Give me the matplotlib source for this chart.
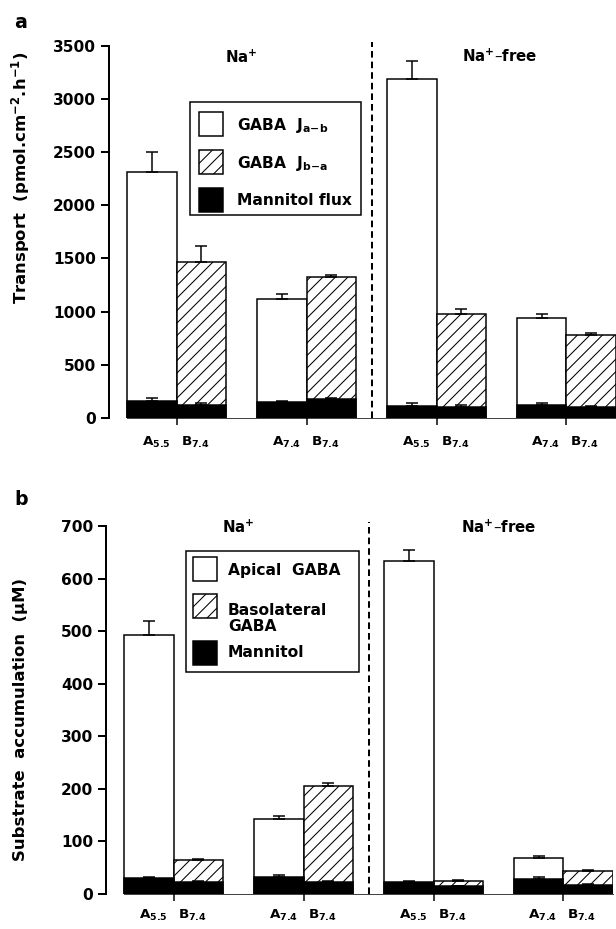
import matplotlib
matplotlib.use("Agg")
import matplotlib.pyplot as plt
from matplotlib.patches import Rectangle
import numpy as np

# ---------------------------------------------------------------- data
bar_labels = [r"A$_{5.5}$", r"B$_{7.4}$", r"A$_{7.4}$", r"B$_{7.4}$",
              r"A$_{5.5}$", r"B$_{7.4}$", r"A$_{7.4}$", r"B$_{7.4}$"]
condition_labels = [r"Na$^{+}$", r"Na$^{+}$–free"]

# panel a: transepithelial transport (pmol cm-2 h-1)
gaba_jab = [2315, 1115, 3185, 935]          # apical -> basal, A bars
gaba_jab_err = [190, 50, 175, 38]
gaba_jba = [1465, 1328, 975, 782]           # basal -> apical, B bars
gaba_jba_err = [150, 18, 45, 12]
mannitol_flux = [160, 120, 150, 175, 110, 105, 115, 105]
mannitol_flux_err = [30, 15, 8, 12, 28, 10, 25, 5]

# panel b: substrate accumulation (uM)
apical_gaba = [492, 143, 633, 68]
apical_gaba_err = [27, 6, 22, 5]
basolateral_gaba = [64, 206, 25, 44]
basolateral_gaba_err = [3, 5, 2, 1.5]
mannitol_acc = [29.5, 23, 32.5, 23, 22, 14.5, 28, 18]
mannitol_acc_err = [3, 1, 4.5, 1, 2.5, 0.5, 3.5, 0.5]

# ---------------------------------------------------------------- layout
W, H, DPI = 616, 929, 150


def pt(px):
    return px * 72.0 / DPI


def fx(x):
    return x / W


def fy(y):
    return 1 - y / H


plt.rcParams.update({
    "font.family": ["DejaVu Sans"],
    "font.weight": "bold",
    "mathtext.fontset": "dejavusans",
    "mathtext.default": "bf",
    "hatch.linewidth": 0.5,
    "hatch.color": "black",
})

fig = plt.figure(figsize=(W / DPI, H / DPI), dpi=DPI)
fig.patch.set_facecolor("white")

GROUP_STEP = 2.62
centers = np.arange(4) * GROUP_STEP
xa = centers - 0.5
xb = centers + 0.5
xm = np.column_stack([xa, xb]).ravel()
XLIM = (-1.365, 8.86)
HATCH = "////"

LW_BAR = pt(1.5)
err_kw = dict(elinewidth=pt(1.5), capthick=pt(1.5), ecolor="black")


def draw_panel(ax, a_vals, a_err, b_vals, b_err, m_vals, m_err, ymax, ystep,
               label_drop):
    zeros4 = np.zeros(4)
    ax.bar(xa, a_vals, width=1, color="white", edgecolor="black",
           linewidth=LW_BAR, yerr=[zeros4, a_err], capsize=pt(6),
           error_kw=err_kw, zorder=2)
    ax.bar(xb, b_vals, width=1, color="white", edgecolor="black",
           linewidth=LW_BAR, hatch=HATCH, yerr=[zeros4, b_err],
           capsize=pt(6), error_kw=err_kw, zorder=2)
    ax.bar(xm, m_vals, width=1, color="black", edgecolor="black",
           linewidth=LW_BAR, yerr=[np.zeros(8), m_err], capsize=pt(6),
           error_kw=err_kw, zorder=3)
    # thin baseline across the gaps between bar pairs
    ax.plot([xa[0] - 0.5, xb[-1] + 0.5], [0, 0], color="#444444",
            lw=pt(1), zorder=1, clip_on=False)
    # divider between Na+ and Na+-free conditions
    mid = (centers[1] + centers[2]) / 2
    ax.axvline(mid, ymin=0, ymax=1.012, color="black", lw=pt(2),
               linestyle=(0, (3.3, 2.0)), clip_on=False, zorder=1)

    ax.set_xlim(*XLIM)
    ax.set_ylim(0, ymax)
    ax.set_yticks(np.arange(0, ymax + 1, ystep))
    ax.set_xticks(centers)
    ax.set_xticklabels([])
    for s in ("top", "right", "bottom"):
        ax.spines[s].set_visible(False)
    ax.spines["left"].set_linewidth(pt(2))
    ax.tick_params(axis="y", direction="out", length=pt(8), width=pt(2),
                   labelsize=pt(15.4), pad=pt(5))
    ax.tick_params(axis="x", direction="out", length=pt(7), width=pt(1.5))
    for lab in ax.get_yticklabels():
        lab.set_fontweight("bold")

    for i, c in enumerate(centers):
        ax.annotate(bar_labels[2 * i], xy=(c, 0),
                    xycoords=("data", "axes fraction"),
                    xytext=(-pt(6), -pt(label_drop)),
                    textcoords="offset points",
                    ha="right", va="top", fontsize=pt(13.5),
                    fontweight="bold")
        ax.annotate(bar_labels[2 * i + 1], xy=(c, 0),
                    xycoords=("data", "axes fraction"),
                    xytext=(pt(4), -pt(label_drop)),
                    textcoords="offset points",
                    ha="left", va="top", fontsize=pt(13.5),
                    fontweight="bold")


def add_axes_px(left, top, right, bottom):
    return fig.add_axes([fx(left), fy(bottom), (right - left) / W,
                         (bottom - top) / H])


def legend_box(x0, y0, x1, y1, sq_x, entries):
    fig.add_artist(Rectangle((fx(x0), fy(y1)), (x1 - x0) / W,
                             (y1 - y0) / H, transform=fig.transFigure,
                             fill=False, edgecolor="black", lw=pt(1.5)))
    for yc, style, lines, tx in entries:
        face = "black" if style == "solid" else "white"
        hatch = HATCH if style == "hatch" else None
        fig.add_artist(Rectangle((fx(sq_x), fy(yc + 12)), 24 / W, 24 / H,
                                 transform=fig.transFigure, facecolor=face,
                                 edgecolor="black", lw=pt(1.5), hatch=hatch))
        for text, base in lines:
            fig.text(fx(tx), fy(base), text, ha="left", va="baseline",
                     fontsize=pt(15.5), fontweight="bold")


# ---------------------------------------------------------------- panel a
ax_a = add_axes_px(109, 46, 616, 417.7)
draw_panel(ax_a, gaba_jab, gaba_jab_err, gaba_jba, gaba_jba_err,
           mannitol_flux, mannitol_flux_err, 3500, 500, 17)

# ---------------------------------------------------------------- panel b
ax_b = add_axes_px(106, 526, 613, 894)
draw_panel(ax_b, apical_gaba, apical_gaba_err, basolateral_gaba,
           basolateral_gaba_err, mannitol_acc, mannitol_acc_err, 700, 100,
           14)

# ---------------------------------------------------------------- texts
fig.text(fx(21), fy(28), "a", ha="center", va="baseline",
         fontsize=pt(19), fontweight="bold")
fig.text(fx(21), fy(505), "b", ha="center", va="baseline",
         fontsize=pt(19), fontweight="bold")

fig.text(fx(21), fy(177.5), r"Transport  (pmol.cm$^{-2}$.h$^{-1}$)",
         rotation=90, ha="center", va="center", fontsize=pt(16.5),
         fontweight="bold")
fig.text(fx(21), fy(719.5), "Substrate  accumulation  (μM)",
         rotation=90, ha="center", va="center", fontsize=pt(16.5),
         fontweight="bold")

for (x, y), lab in zip([(225, 63), (461.7, 62)], condition_labels):
    fig.text(fx(x), fy(y), lab, ha="left", va="baseline",
             fontsize=pt(15), fontweight="bold")
for (x, y), lab in zip([(221.7, 533), (460.7, 533)], condition_labels):
    fig.text(fx(x), fy(y), lab, ha="left", va="baseline",
             fontsize=pt(15), fontweight="bold")

legend_box(190, 102, 361, 215, 199, [
    (124, "open", [(r"GABA  J$_{a\!-\!b}$", 130)], 237),
    (162, "hatch", [(r"GABA  J$_{b\!-\!a}$", 168)], 237),
    (200, "solid", [("Mannitol flux", 205)], 237),
])
legend_box(186, 551, 359, 672, 193, [
    (569, "open", [("Apical  GABA", 575)], 228),
    (605.5, "hatch", [("Basolateral", 615), ("GABA", 631)], 228),
    (652.5, "solid", [("Mannitol", 657)], 228),
])

fig.savefig("out.png", dpi=DPI, facecolor="white")
